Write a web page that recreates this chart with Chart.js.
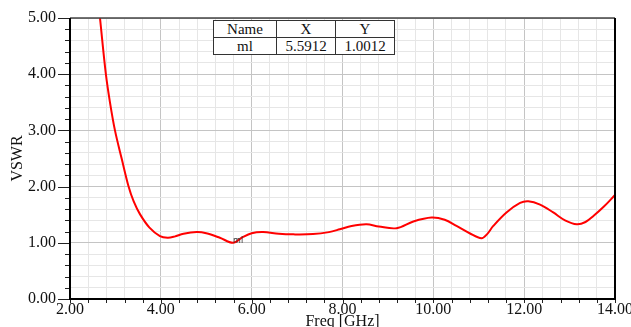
<!DOCTYPE html>
<html>
<head>
<meta charset="utf-8">
<script src="https://cdn.jsdelivr.net/npm/chart.js@4.4.1/dist/chart.umd.min.js"></script>
<style>
  html, body { margin: 0; padding: 0; background: #fff; }
  #wrap { position: relative; width: 631px; height: 327px; overflow: hidden; }
  #c { position: absolute; left: 0; top: 0; }
  #mtable {
    position: absolute; left: 213px; top: 20px;
    border-collapse: collapse; background: #fff;
    font-family: "Liberation Serif", "DejaVu Serif", serif; font-size: 15px; color: #111;
  }
  #mtable td { border: 1px solid #333; padding: 0; height: 16px; line-height: 16px; text-align: center; }
</style>
</head>
<body>
<div id="wrap">
  <canvas id="c" width="631" height="327"></canvas>
  <table id="mtable">
    <tr><td style="width:62px">Name</td><td style="width:58px">X</td><td style="width:58px">Y</td></tr>
    <tr><td>ml</td><td id="mx"></td><td id="my"></td></tr>
  </table>
</div>
<script>
// ---- data ----
const freqGHz = [2.60, 2.66, 2.79, 2.88, 2.99, 3.14, 3.29, 3.40, 3.54, 3.75, 3.98, 4.15, 4.30, 4.50, 4.79, 5.00, 5.30, 5.59,
                 5.80, 6.00, 6.25, 6.60, 6.92, 7.35, 7.70, 7.94, 8.20, 8.53, 8.80, 9.19, 9.56, 9.96, 10.25, 10.51,
                 10.80, 11.06, 11.18, 11.32, 11.61, 11.91, 12.09, 12.35, 12.64, 12.90, 13.16, 13.35, 13.53, 13.75, 14.00];
const vswr    = [5.45, 5.00, 4.00, 3.50, 3.00, 2.49, 2.00, 1.74, 1.51, 1.27, 1.12, 1.09, 1.11, 1.16, 1.19, 1.17, 1.09, 1.00,
                 1.10, 1.17, 1.19, 1.16, 1.15, 1.155, 1.19, 1.24, 1.30, 1.33, 1.29, 1.26, 1.38, 1.45, 1.41, 1.30,
                 1.17, 1.08, 1.15, 1.30, 1.54, 1.71, 1.74, 1.68, 1.54, 1.40, 1.33, 1.37, 1.48, 1.64, 1.85];
const markerName = ["ml"];
const markerFreq = [5.5912];
const markerVswr = [1.0012];
const xTickLabels = ["2.00", "4.00", "6.00", "8.00", "10.00", "12.00", "14.00"];
const yTickLabels = ["0.00", "1.00", "2.00", "3.00", "4.00", "5.00"];

document.getElementById('mx').textContent = markerFreq[0].toFixed(4);
document.getElementById('my').textContent = markerVswr[0].toFixed(4);

const isMult = (v, s) => Math.abs(v / s - Math.round(v / s)) < 1e-6;
const SERIF = '"Liberation Serif", "DejaVu Serif", serif';

const frame = {
  id: 'frame',
  afterDatasetsDraw(chart) {
    const { ctx, chartArea: a, scales: { x, y } } = chart;
    ctx.save();
    // tick marks
    ctx.strokeStyle = '#222';
    ctx.lineWidth = 1;
    y.ticks.forEach(t => {
      const py = Math.round(y.getPixelForValue(t.value)) + 0.5;
      const len = isMult(t.value, 1) ? 12 : 5;
      ctx.beginPath(); ctx.moveTo(a.left - len, py); ctx.lineTo(a.left, py); ctx.stroke();
    });
    x.ticks.forEach(t => {
      const px = Math.round(x.getPixelForValue(t.value)) + 0.5;
      ctx.beginPath(); ctx.moveTo(px, a.bottom); ctx.lineTo(px, a.bottom + 4); ctx.stroke();
    });
    // border
    ctx.strokeStyle = '#444'; ctx.lineWidth = 1.5;
    ctx.beginPath(); ctx.moveTo(a.left, a.top); ctx.lineTo(a.right, a.top); ctx.stroke();
    ctx.strokeStyle = '#000'; ctx.lineWidth = 2;
    ctx.beginPath(); ctx.moveTo(a.left, a.top); ctx.lineTo(a.left, a.bottom); ctx.lineTo(a.right, a.bottom); ctx.lineTo(a.right, a.top); ctx.stroke();
    // marker label
    ctx.fillStyle = '#333';
    ctx.font = '8px "DejaVu Sans", sans-serif';
    ctx.textBaseline = 'alphabetic';
    markerFreq.forEach((f, i) => {
      const px = x.getPixelForValue(f), py = y.getPixelForValue(markerVswr[i]);
      ctx.fillText(markerName[i], px, py);
    });
    ctx.restore();
  }
};

new Chart(document.getElementById('c'), {
  type: 'line',
  data: {
    datasets: [{
      data: freqGHz.map((f, i) => ({ x: f, y: vswr[i] })),
      borderColor: '#ff0000',
      borderWidth: 2,
      pointRadius: 0,
      tension: 0.35,
      fill: false
    }]
  },
  options: {
    responsive: false,
    animation: false,
    events: [],
    layout: { padding: { left: 0, right: 16, top: 18, bottom: 0 } },
    plugins: { legend: { display: false }, tooltip: { enabled: false } },
    scales: {
      x: {
        type: 'linear', min: 2, max: 14,
        border: { display: false },
        grid: {
          drawTicks: false,
          color: c => isMult(c.tick.value, 2) ? '#c4c4c4' : '#e6e6e6',
          lineWidth: 1
        },
        ticks: {
          stepSize: 0.4, autoSkip: false, maxRotation: 0, padding: 1,
          color: '#111', font: { family: SERIF, size: 16 },
          callback: v => isMult(v, 2) ? xTickLabels[Math.round((v - 2) / 2)] : ''
        },
        title: { display: true, text: 'Freq [GHz]', color: '#111', font: { family: SERIF, size: 16 }, padding: { top: 0, bottom: -4 } },
        afterFit: s => { s.height = 28; s.paddingLeft = 0; s.paddingRight = 0; }
      },
      y: {
        type: 'linear', min: 0, max: 5,
        border: { display: false },
        grid: {
          drawTicks: false,
          color: c => isMult(c.tick.value, 1) ? '#c4c4c4' : '#e6e6e6',
          lineWidth: 1
        },
        ticks: {
          stepSize: 0.2, autoSkip: false, padding: 14,
          color: '#111', font: { family: SERIF, size: 16 },
          callback: v => isMult(v, 1) ? yTickLabels[Math.round(v)] : ''
        },
        title: { display: true, text: 'VSWR', color: '#111', font: { family: SERIF, size: 16 }, padding: { top: 8, bottom: 0 } },
        afterFit: s => { s.width = 70; s.paddingTop = 0; s.paddingBottom = 0; }
      }
    }
  },
  plugins: [frame]
});
</script>
</body>
</html>
